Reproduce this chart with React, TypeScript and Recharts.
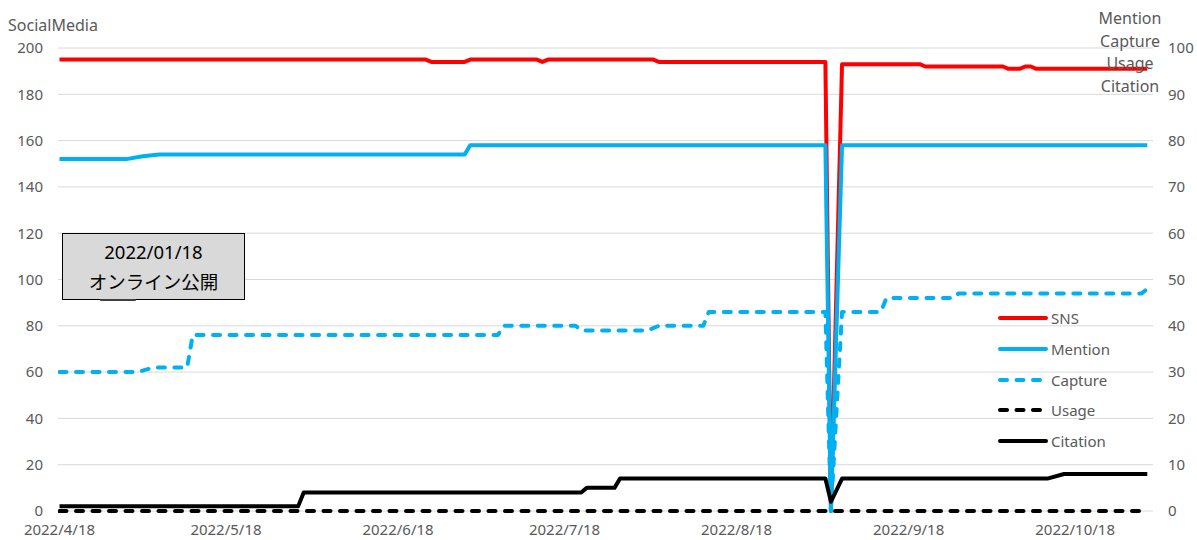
import { LineChart, Line, XAxis, YAxis, CartesianGrid, Legend } from "recharts";

// dates where a series changes value
const snsPoints: [string, number][] = [
  ["2022-04-18", 195], ["2022-06-23", 195], ["2022-06-24", 194], ["2022-06-30", 194],
  ["2022-07-01", 195], ["2022-07-13", 195], ["2022-07-14", 194], ["2022-07-15", 195],
  ["2022-08-03", 195], ["2022-08-04", 194], ["2022-09-03", 194], ["2022-09-04", 0],
  ["2022-09-06", 193], ["2022-09-20", 193], ["2022-09-21", 192], ["2022-10-05", 192],
  ["2022-10-06", 191], ["2022-10-08", 191], ["2022-10-09", 192], ["2022-10-10", 192],
  ["2022-10-11", 191], ["2022-10-31", 191],
];

const mentionPoints: [string, number][] = [
  ["2022-04-18", 76], ["2022-04-30", 76], ["2022-05-03", 76.6], ["2022-05-06", 77],
  ["2022-06-30", 77], ["2022-07-01", 79], ["2022-09-03", 79], ["2022-09-04", 0],
  ["2022-09-06", 79], ["2022-10-31", 79],
];

const capturePoints: [string, number][] = [
  ["2022-04-18", 30], ["2022-05-02", 30], ["2022-05-05", 31], ["2022-05-11", 31],
  ["2022-05-12", 38], ["2022-07-06", 38], ["2022-07-07", 40], ["2022-07-20", 40],
  ["2022-07-21", 39], ["2022-08-02", 39], ["2022-08-04", 40], ["2022-08-12", 40],
  ["2022-08-13", 43], ["2022-09-03", 43], ["2022-09-04", 0], ["2022-09-06", 43],
  ["2022-09-13", 43], ["2022-09-14", 46], ["2022-09-26", 46], ["2022-09-27", 47],
  ["2022-10-30", 47], ["2022-10-31", 48],
];

const usagePoints: [string, number][] = [
  ["2022-04-18", 0], ["2022-10-31", 0],
];

const citationPoints: [string, number][] = [
  ["2022-04-18", 1], ["2022-05-31", 1], ["2022-06-01", 4], ["2022-07-21", 4],
  ["2022-07-22", 5], ["2022-07-27", 5], ["2022-07-28", 7], ["2022-09-03", 7],
  ["2022-09-04", 2], ["2022-09-06", 7], ["2022-10-13", 7], ["2022-10-16", 8],
  ["2022-10-31", 8],
];

const tickDates = [
  "2022-04-18", "2022-05-18", "2022-06-18", "2022-07-18",
  "2022-08-18", "2022-09-18", "2022-10-18",
];

const leftTicks = [0, 20, 40, 60, 80, 100, 120, 140, 160, 180, 200];
const rightTicks = [0, 10, 20, 30, 40, 50, 60, 70, 80, 90, 100];

const BASE = Date.UTC(2022, 3, 18);
const dayOf = (s: string) => Math.round((Date.parse(s + "T00:00:00Z") - BASE) / 86400000);
const toSeries = (pts: [string, number][]) => pts.map(([date, v]) => ({ d: dayOf(date), v }));

const labelOf = (d: number) => {
  const dt = new Date(BASE + d * 86400000);
  return `${dt.getUTCFullYear()}/${dt.getUTCMonth() + 1}/${dt.getUTCDate()}`;
};

const FONT = '"Noto Sans", "Noto Sans CJK JP", sans-serif';
const TEXT = "#595959";
const RED = "#ff0000";
const BLUE = "#00b0f0";
const DASH = "7 9.5";

const legendItems = [
  { name: "SNS", color: RED, dash: undefined },
  { name: "Mention", color: BLUE, dash: undefined },
  { name: "Capture", color: BLUE, dash: DASH },
  { name: "Usage", color: "#000", dash: DASH },
  { name: "Citation", color: "#000", dash: undefined },
];

const renderLegend = () => (
  <div style={{ fontFamily: FONT, fontSize: 15, color: TEXT }}>
    {legendItems.map((it) => (
      <div key={it.name} style={{ display: "flex", alignItems: "center", height: 30.7 }}>
        <svg width={52} height={10}>
          <line
            x1={2}
            y1={5}
            x2={48}
            y2={5}
            stroke={it.color}
            strokeWidth={4}
            strokeDasharray={it.dash}
            strokeLinecap="round"
          />
        </svg>
        <span style={{ marginLeft: 1 }}>{it.name}</span>
      </div>
    ))}
  </div>
);

const App = () => {
  const tickStyle = { fontFamily: FONT, fontSize: 15, fill: TEXT };
  return (
    <div style={{ position: "absolute", left: 0, top: 0, width: 1197, height: 540 }}>
      <LineChart width={1197} height={540} margin={{ top: 48, right: 0, bottom: 0, left: 0 }}>
        <CartesianGrid yAxisId="left" vertical={false} stroke="#d9d9d9" strokeWidth={1} />
        <XAxis
          dataKey="d"
          type="number"
          domain={[-0.27, 197.03]}
          ticks={tickDates.map(dayOf)}
          tickFormatter={labelOf}
          axisLine={false}
          tickLine={false}
          tickSize={0}
          tickMargin={13}
          height={29}
          tick={tickStyle}
          allowDataOverflow
        />
        <YAxis
          yAxisId="left"
          domain={[0, 200]}
          ticks={leftTicks}
          axisLine={false}
          tickLine={false}
          tickSize={0}
          tickMargin={15}
          width={58}
          tick={tickStyle}
        />
        <YAxis
          yAxisId="right"
          orientation="right"
          domain={[0, 100]}
          ticks={rightTicks}
          axisLine={false}
          tickLine={false}
          tickSize={0}
          tickMargin={15}
          width={44}
          tick={{ ...tickStyle, textAnchor: "start" }}
        />
        <Legend
          layout="vertical"
          align="center"
          verticalAlign="middle"
          content={renderLegend}
          wrapperStyle={{ left: 998, top: 303, width: 130, height: 160 }}
        />
        <Line yAxisId="left" data={toSeries(snsPoints)} dataKey="v" name="SNS" stroke={RED}
          strokeWidth={4} dot={false} strokeLinejoin="round" isAnimationActive={false} />
        <Line yAxisId="right" data={toSeries(mentionPoints)} dataKey="v" name="Mention" stroke={BLUE}
          strokeWidth={4} dot={false} strokeLinejoin="round" isAnimationActive={false} />
        <Line yAxisId="right" data={toSeries(capturePoints)} dataKey="v" name="Capture" stroke={BLUE}
          strokeWidth={4} strokeDasharray={DASH} strokeLinecap="round" dot={false}
          strokeLinejoin="round" isAnimationActive={false} />
        <Line yAxisId="right" data={toSeries(usagePoints)} dataKey="v" name="Usage" stroke="#000"
          strokeWidth={4} strokeDasharray={DASH} strokeLinecap="round" dot={false}
          isAnimationActive={false} />
        <Line yAxisId="right" data={toSeries(citationPoints)} dataKey="v" name="Citation" stroke="#000"
          strokeWidth={4} dot={false} strokeLinejoin="round" isAnimationActive={false} />
      </LineChart>

      <div style={{ position: "absolute", left: 8, top: 14, fontFamily: FONT, fontSize: 16,
        lineHeight: "22px", color: TEXT }}>
        SocialMedia
      </div>
      <div style={{ position: "absolute", left: 1080, top: 7, width: 100, textAlign: "center",
        fontFamily: FONT, fontSize: 16, lineHeight: "22.5px", color: TEXT }}>
        Mention<br />Capture<br />Usage<br />Citation
      </div>

      <div style={{ position: "absolute", left: 62, top: 233, width: 183, height: 67,
        boxSizing: "border-box", background: "#d9d9d9", border: "1.5px solid #000",
        fontFamily: FONT, fontSize: 18.5, lineHeight: "30px", color: "#000",
        textAlign: "center", paddingTop: 3 }}>
        2022/01/18<br />オンライン公開
      </div>
      {/* little callout tail under the box */}
      <div style={{ position: "absolute", left: 100, top: 299, width: 36, height: 2,
        background: "#404040", borderRadius: 1 }} />
    </div>
  );
};

export default App;
